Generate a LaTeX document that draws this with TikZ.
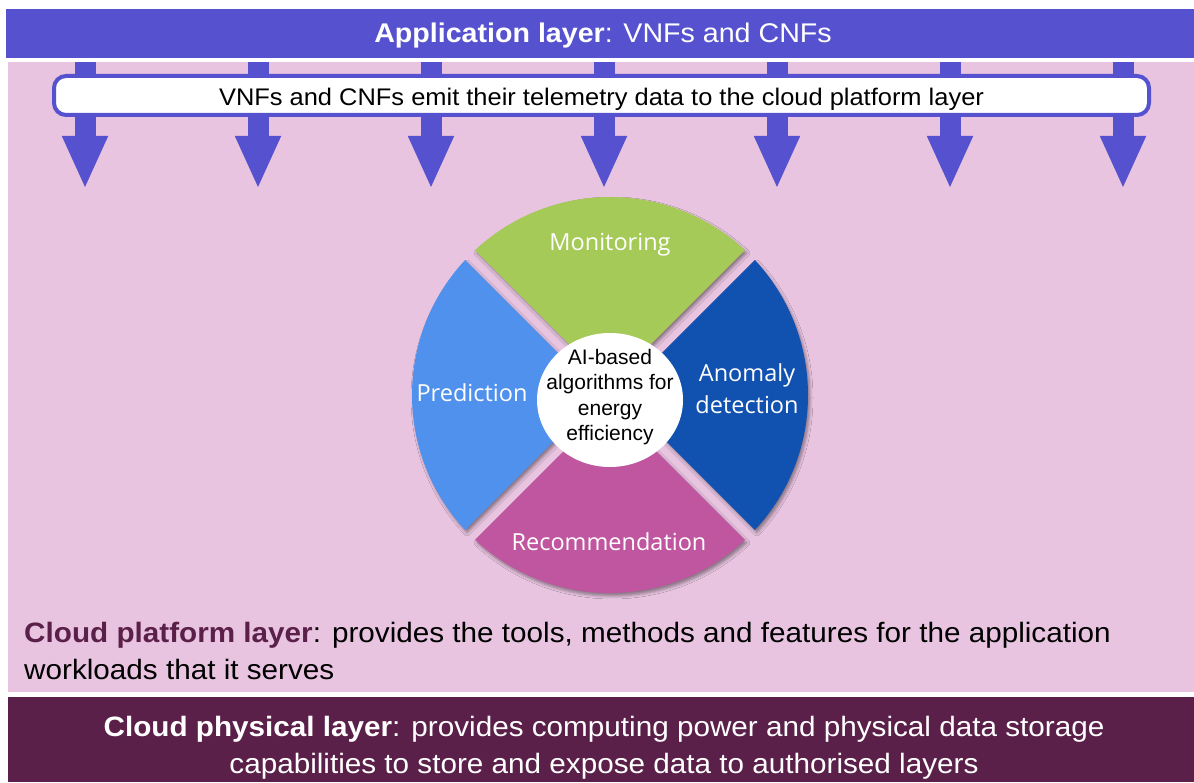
\documentclass[tikz,border=0pt]{standalone}
\usepackage{fontspec}
\setmainfont{Liberation Sans}
\newfontfamily\layerfont[FakeStretch=1.06]{Liberation Sans}
\newfontfamily\segfont{Open Sans}
\usetikzlibrary{arrows.meta,shadows.blur}
\definecolor{appblue}{HTML}{5652CF}
\definecolor{platpink}{HTML}{E8C4E0}
\definecolor{physpurple}{HTML}{5B2049}
\definecolor{moncol}{HTML}{A6CA57}
\definecolor{precol}{HTML}{4F91EC}
\definecolor{anocol}{HTML}{1151B0}
\definecolor{reccol}{HTML}{C056A0}
\begin{document}
\begin{tikzpicture}[x=1pt,y=1pt,
    layer/.style={inner sep=0,anchor=north west},
    flowarrow/.style={appblue,line width=21pt,-{Triangle[length=53pt,width=42pt]}},
    segment/.style={blur shadow={shadow xshift=2pt,shadow yshift=-3pt,shadow blur radius=3pt,shadow opacity=40}},
    seglabel/.style={white,align=center,font=\segfont\fontsize{23.5}{32}\selectfont}]
    \fill[white] (0,0) rectangle (1194,782);
    \useasboundingbox (0,0) rectangle (1194,782);
    \node (appbar) [layer,fill=appblue,minimum width=1188,minimum height=49] at (6,773) {};
    \node (apptext) [white,anchor=base,font=\layerfont\fontsize{27}{32}\selectfont] at (603,739) {\textbf{Application layer}: VNFs and CNFs};
    \node (platform) [layer,fill=platpink,minimum width=1186,minimum height=630] at (8,720) {};
    \node (physical) [layer,fill=physpurple,minimum width=1186,minimum height=85] at (8,85) {};
    \foreach \i in {0,...,6} {
      \coordinate (tip\i) at ({85+173*\i},593);
      \draw[flowarrow] (platform.north -| tip\i) -- (tip\i);
    }
    \node (telebox) [draw=appblue,line width=4pt,fill=white,rounded corners=12pt,minimum width=1095,minimum height=39,inner sep=0,
      text height=25,text depth=4,font=\layerfont\fontsize{24}{28}\selectfont] at (601.5,686.5)
      {VNFs and CNFs emit their telemetry data to the cloud platform layer};
    \coordinate (c) at (610,387);
    \foreach \ang/\col in {90/moncol,180/precol,270/reccol,0/anocol}
      \fill[\col,segment] ([shift={(\ang:9.9)}]c) -- ([shift={({\ang-42.97}:198)}]c)
        arc[start angle={\ang-42.97},end angle={\ang+42.97},radius=198] -- cycle;
    \fill[white] ([yshift=-5]c) ellipse[x radius=73,y radius=67];
    \node (hub) [align=center,font=\fontsize{21}{25.5}\selectfont] at ([yshift=-2]c) {AI-based\\algorithms for\\energy\\efficiency};
    \node (mon) [seglabel] at ([yshift=150]c) {Monitoring};
    \node (pred) [seglabel] at ([shift={(-138,2)}]c) {Prediction};
    \node (anom) [seglabel] at ([shift={(137,6)}]c) {Anomaly\\detection};
    \node (recom) [seglabel] at ([shift={(-1,-147)}]c) {Recommendation};
    \node (platformtext) [anchor=north west,align=left,inner sep=0,font=\layerfont\fontsize{28}{37}\selectfont] at (24,160)
      {\textcolor{physpurple}{\textbf{Cloud platform layer}}: provides the tools, methods and features for the application\\workloads that it serves};
    \node (physicaltext) [anchor=north,align=center,inner sep=0,white,font=\layerfont\fontsize{28}{37}\selectfont] at (604,66.4)
      {\textbf{Cloud physical layer}: provides computing power and physical data storage\\capabilities to store and expose data to authorised layers};
\end{tikzpicture}
\end{document}
